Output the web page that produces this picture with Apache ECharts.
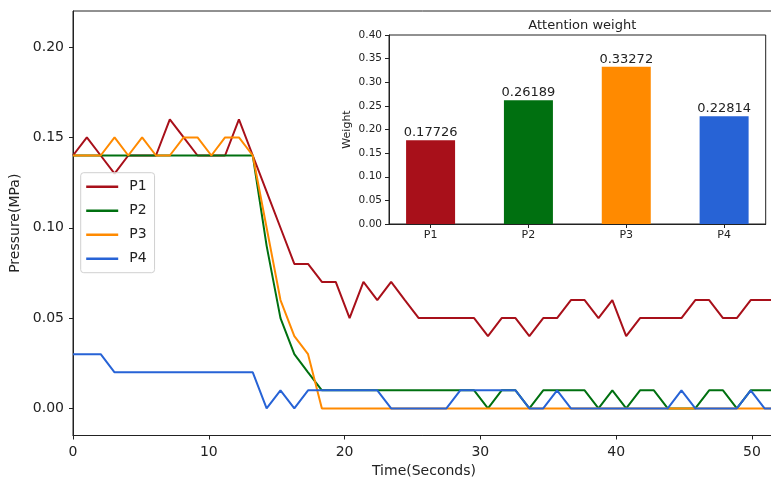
<!DOCTYPE html>
<html><head><meta charset="utf-8">
<script src="https://cdn.jsdelivr.net/npm/echarts@6/dist/echarts.min.js"></script>
<style>html,body{margin:0;padding:0;background:#fff}#c{width:771px;height:480px}</style>
</head><body><div id="c"></div>
<script>
const times = [0,1.02,2.04,3.06,4.07,5.09,6.11,7.13,8.15,9.17,10.19,11.20,12.22,13.24,14.26,15.28,16.30,17.31,18.33,19.35,20.37,21.39,22.41,23.43,24.44,25.46,26.48,27.50,28.52,29.54,30.56,31.57,32.59,33.61,34.63,35.65,36.67,37.68,38.70,39.72,40.74,41.76,42.78,43.80,44.81,45.83,46.85,47.87,48.89,49.91,50.93,51.94];
const p1 = [0.14,0.15,0.14,0.13,0.14,0.14,0.14,0.16,0.15,0.14,0.14,0.14,0.16,0.14,0.12,0.10,0.08,0.08,0.07,0.07,0.05,0.07,0.06,0.07,0.06,0.05,0.05,0.05,0.05,0.05,0.04,0.05,0.05,0.04,0.05,0.05,0.06,0.06,0.05,0.06,0.04,0.05,0.05,0.05,0.05,0.06,0.06,0.05,0.05,0.06,0.06,0.06];
const p2 = [0.14,0.14,0.14,0.14,0.14,0.14,0.14,0.14,0.14,0.14,0.14,0.14,0.14,0.14,0.09,0.05,0.03,0.02,0.01,0.01,0.01,0.01,0.01,0.01,0.01,0.01,0.01,0.01,0.01,0.01,0.00,0.01,0.01,0.00,0.01,0.01,0.01,0.01,0.00,0.01,0.00,0.01,0.01,0.00,0.00,0.00,0.01,0.01,0.00,0.01,0.01,0.01];
const p3 = [0.14,0.14,0.14,0.15,0.14,0.15,0.14,0.14,0.15,0.15,0.14,0.15,0.15,0.14,0.10,0.06,0.04,0.03,0.00,0.00,0.00,0.00,0.00,0.00,0.00,0.00,0.00,0.00,0.00,0.00,0.00,0.00,0.00,0.00,0.00,0.00,0.00,0.00,0.00,0.00,0.00,0.00,0.00,0.00,0.00,0.00,0.00,0.00,0.00,0.00,0.00,0.00];
const p4 = [0.03,0.03,0.03,0.02,0.02,0.02,0.02,0.02,0.02,0.02,0.02,0.02,0.02,0.02,0.00,0.01,0.00,0.01,0.01,0.01,0.01,0.01,0.01,0.00,0.00,0.00,0.00,0.00,0.01,0.01,0.01,0.01,0.01,0.00,0.00,0.01,0.00,0.00,0.00,0.00,0.00,0.00,0.00,0.00,0.01,0.00,0.00,0.00,0.00,0.01,0.00,0.00];
const seriesNames = ['P1','P2','P3','P4'];
const weights = [0.17726,0.26189,0.33272,0.22814];
const weightLabels = ['0.17726','0.26189','0.33272','0.22814'];
const pressureTicks = [0,0.05,0.10,0.15,0.20];
const barPositions = [0,1,2,3];
const colors = ['#a8101a','#007010','#ff8a00','#2763d6'];

const FONT = 'DejaVu Sans';
const TXT = '#222';
const pressure = [p1,p2,p3,p4];

const chart = echarts.init(document.getElementById('c'), null, {renderer:'canvas'});
chart.setOption({
  animation:false,
  backgroundColor:'#fff',
  textStyle:{fontFamily:FONT,color:TXT},
  title:{text:'Attention weight',left:577.3,top:14,textAlign:'center',
    textStyle:{fontFamily:FONT,fontSize:13,fontWeight:'normal',color:TXT}},
  legend:{
    data:seriesNames, orient:'vertical', left:80.7, top:172.7,
    icon:'rect', itemWidth:32, itemHeight:2.5, itemGap:8,
    padding:[6,8,6,5.5], borderColor:'#d0d0d0', borderWidth:1, borderRadius:3,
    backgroundColor:'rgba(255,255,255,0.8)',
    textStyle:{fontFamily:FONT,fontSize:14,color:TXT,lineHeight:16,padding:[0,0,0,6]}
  },
  grid:[
    {left:73,top:11,right:-4,bottom:44.5,outerBoundsMode:'none',containLabel:false,
     show:true,borderColor:'#222',borderWidth:1,backgroundColor:'#fff'},
    {left:389,top:35,right:5.3,bottom:256,outerBoundsMode:'none',containLabel:false,
     show:true,borderColor:'#222',borderWidth:1,backgroundColor:'#fff',z:5}
  ],
  xAxis:[
    {type:'value',gridIndex:0,min:0,max:51.7,interval:10,
     name:'Time(Seconds)',nameLocation:'middle',nameGap:28,
     nameTextStyle:{fontFamily:FONT,fontSize:14,color:TXT},
     axisLine:{onZero:false,lineStyle:{color:'#222',width:1}},
     axisTick:{length:4,lineStyle:{color:'#222'}},
     axisLabel:{fontFamily:FONT,fontSize:14,color:TXT,margin:10,showMaxLabel:false},
     splitLine:{show:false}},
    {type:'value',gridIndex:1,min:-0.425,max:3.425,
     axisLine:{onZero:false,lineStyle:{color:'#222',width:1}},
     axisTick:{length:4,lineStyle:{color:'#222'},customValues:barPositions},
     axisLabel:{fontFamily:FONT,fontSize:11,color:TXT,margin:6,customValues:barPositions,
       formatter:v=>seriesNames[Math.round(v)]},
     splitLine:{show:false},z:6}
  ],
  yAxis:[
    {type:'value',gridIndex:0,min:-0.015,max:0.22,
     name:'Pressure(MPa)',nameLocation:'middle',nameGap:46,
     nameTextStyle:{fontFamily:FONT,fontSize:14,color:TXT},
     axisLine:{show:true,onZero:false,lineStyle:{color:'#222',width:1}},
     axisTick:{show:true,length:4,lineStyle:{color:'#222'},customValues:pressureTicks},
     axisLabel:{fontFamily:FONT,fontSize:14,color:TXT,margin:9,customValues:pressureTicks,
       formatter:v=>v.toFixed(2)},
     splitLine:{show:false}},
    {type:'value',gridIndex:1,min:0,max:0.4,interval:0.05,
     name:'Weight',nameLocation:'middle',nameGap:36,
     nameTextStyle:{fontFamily:FONT,fontSize:11,color:TXT},
     axisLine:{show:true,onZero:false,lineStyle:{color:'#222',width:1}},
     axisTick:{show:true,length:4,lineStyle:{color:'#222'}},
     axisLabel:{fontFamily:FONT,fontSize:10.5,color:TXT,margin:7,formatter:v=>v.toFixed(2)},
     splitLine:{show:false},z:6}
  ],
  series:[
    ...pressure.map((arr,k)=>({
      type:'line',name:seriesNames[k],xAxisIndex:0,yAxisIndex:0,
      data:times.map((t,i)=>[t,arr[i]]),
      symbol:'none',showSymbol:false,clip:true,
      lineStyle:{width:2,color:colors[k]},itemStyle:{color:colors[k]},z:2+k
    })),
    {type:'bar',xAxisIndex:1,yAxisIndex:1,barWidth:49,z:7,
     data:weights.map((w,i)=>({value:[barPositions[i],w],itemStyle:{color:colors[i]}})),
     label:{show:true,position:'top',distance:1,fontFamily:FONT,fontSize:13,color:TXT,
       formatter:p=>weightLabels[p.dataIndex]}}
  ]
});
</script></body></html>
